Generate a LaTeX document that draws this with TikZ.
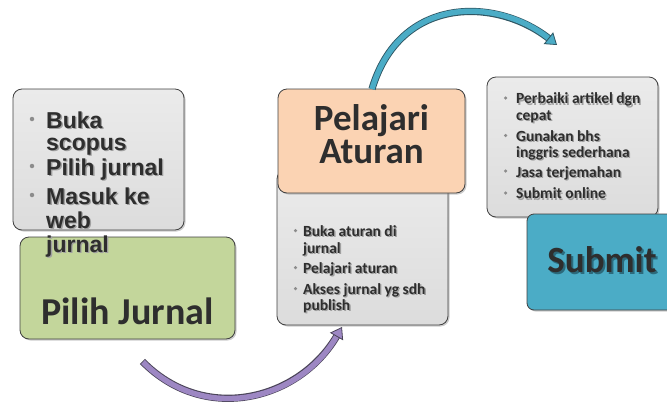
\documentclass[tikz,border=0pt]{standalone}
\usepackage{fontspec}
\setmainfont{Carlito}
\newfontfamily\arialfont{Liberation Sans}
\usetikzlibrary{arrows.meta,shadows}
\definecolor{boxedge}{HTML}{404040}
\definecolor{graytop}{HTML}{EBEBEB}
\definecolor{graybot}{HTML}{DCDCDC}
\definecolor{greenfill}{HTML}{C3D69B}
\definecolor{peachfill}{HTML}{FBD3B3}
\definecolor{bluefill}{HTML}{4BACC6}
\definecolor{txtdark}{HTML}{2E2E2E}
\definecolor{txtghost}{HTML}{A0A0A0}
\definecolor{purpfill}{HTML}{9D87C3}
\definecolor{purpedge}{HTML}{4A4458}
\definecolor{blueedge}{HTML}{2F5663}
\definecolor{dotgray}{HTML}{8C8C8C}
\definecolor{submitshadow}{HTML}{2C6A7C}
\tikzset{
  panel/.style={draw=boxedge, line width=0.8pt, rounded corners=9pt, outer sep=0pt, inner sep=0pt,
    anchor=north west, drop shadow={shadow xshift=1.5pt, shadow yshift=-1.5pt, opacity=0.4}},
  graybox/.style={panel, top color=graytop, bottom color=graybot},
  greenbox/.style={panel, fill=greenfill},
  peachbox/.style={panel, fill=peachfill},
  bluebox/.style={panel, fill=bluefill, rounded corners=7pt},
  head/.style={font=\bfseries\fontsize{37}{37}\selectfont, text=txtdark, inner sep=0pt, anchor=base},
  listA/.style={font=\arialfont\bfseries\fontsize{23}{25}\selectfont, inner sep=0pt},
  listB/.style={font=\bfseries\fontsize{15.5}{17}\selectfont, inner sep=0pt},
  dotA/.style={circle, fill=dotgray, inner sep=0pt, minimum size=4.5pt},
  dotB/.style={circle, fill=dotgray, inner sep=0pt, minimum size=3.5pt},
}
\newcommand\tline[5]{%
  \node[#1, text=txtghost, anchor=base west] (#2s) at (#3+1.3,#4+1.8) {#5};
  \node[#1, text=txtdark, anchor=base west] (#2) at (#3,#4) {#5};}
\begin{document}
\begin{tikzpicture}[x=1pt,y=-1pt]
\useasboundingbox (0,0) rectangle (667,405);
\clip (0,0) rectangle (667,405);

% --- left column
\node[greenbox, minimum width=215pt, minimum height=102pt] (green) at (20,237) {};
\node[head, font=\bfseries\fontsize{38}{38}\selectfont] (pj) at (127.5,324) {Pilih Jurnal};
\node[graybox, minimum width=171pt, minimum height=141pt] (g1) at (13,89) {};
\node[dotA] (d1a) at (32,119) {};
\node[dotA] (d1b) at (32,166) {};
\node[dotA] (d1c) at (32,195) {};
\tline{listA}{a1}{46}{128}{Buka}
\tline{listA}{a2}{46}{150}{scopus}
\tline{listA}{a3}{46}{175}{Pilih jurnal}
\tline{listA}{a4}{46}{204}{Masuk ke}
\tline{listA}{a5}{46}{228}{web}
\tline{listA}{a6}{46}{252}{jurnal}

% --- middle column
\node[graybox, minimum width=171pt, minimum height=155pt] (g2) at (277,170) {};
\node[peachbox, minimum width=187pt, minimum height=104pt] (peach) at (278,89) {};
\node[head] (pa1) at (371.5,130) {Pelajari};
\node[head] (pa2) at (371.5,163) {Aturan};
\node[dotB] (d2a) at (295.5,230.5) {};
\node[dotB] (d2b) at (295.5,267.5) {};
\node[dotB] (d2c) at (295.5,288.5) {};
\tline{listB}{b1}{303}{236}{Buka aturan di}
\tline{listB}{b2}{303}{253}{jurnal}
\tline{listB}{b3}{303}{273}{Pelajari aturan}
\tline{listB}{b4}{303}{294}{Akses jurnal yg sdh}
\tline{listB}{b5}{303}{310}{publish}

% --- right column
\node[graybox, minimum width=171pt, minimum height=140pt] (g3) at (487,77) {};
\node[dotB] (d3a) at (505.5,98) {};
\node[dotB] (d3b) at (505.5,135.5) {};
\node[dotB] (d3c) at (505.5,171) {};
\node[dotB] (d3d) at (505.5,193) {};
\tline{listB}{c1}{516}{103.5}{Perbaiki artikel dgn}
\tline{listB}{c2}{516}{120}{cepat}
\tline{listB}{c3}{516}{141}{Gunakan bhs}
\tline{listB}{c4}{516}{157}{inggris sederhana}
\tline{listB}{c5}{516}{177}{Jasa terjemahan}
\tline{listB}{c6}{516}{198.5}{Submit online}
\node[bluebox, minimum width=152pt, minimum height=96pt] (blue) at (527,214) {};
\node[head, text=submitshadow] (subs) at (604,274.5) {Submit};
\node[head] (sub) at (602,272) {Submit};

% --- connectors
\coordinate (pstart) at (143,362);
\coordinate (pend) at (342,327);
\draw[line width=7.2pt, draw=purpedge, shorten >=9pt, shorten <=-0.8pt]
  (pstart) .. controls (205,425) and (300,400) .. (pend);
\draw[line width=5.4pt, draw=purpfill,
  -{Triangle[width=15pt,length=11pt,fill=purpfill,color=purpedge,line width=0.8pt]}]
  (pstart) .. controls (205,425) and (300,400) .. (pend);

\coordinate (bstart) at (372,89);
\coordinate (bend) at (557,45);
\draw[line width=7.2pt, draw=blueedge, shorten >=9pt]
  (bstart) .. controls (400,-5) and (497,-3) .. (bend);
\draw[line width=5.4pt, draw=bluefill,
  -{Triangle[width=15pt,length=11pt,fill=bluefill,color=blueedge,line width=0.8pt]}]
  (bstart) .. controls (400,-5) and (497,-3) .. (bend);
\end{tikzpicture}
\end{document}
